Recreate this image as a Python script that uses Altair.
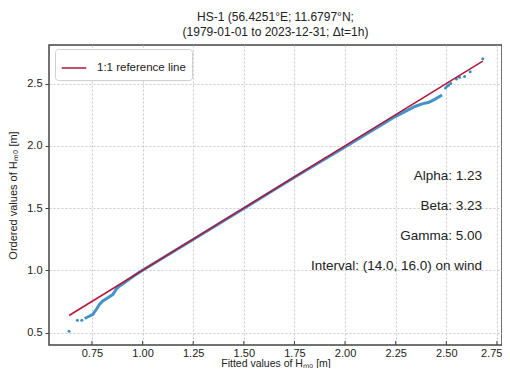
import altair as alt
import pandas as pd

# dense part of the QQ curve (fitted, ordered)
dense_x = [0.714, 0.739, 0.755, 0.772, 0.788, 0.804, 0.829, 0.854, 0.870, 0.887,
           0.920, 0.960, 1.000, 1.250, 1.500, 1.750, 2.000, 2.250, 2.348, 2.381,
           2.414, 2.447, 2.479]
dense_y = [0.613, 0.633, 0.647, 0.687, 0.727, 0.754, 0.780, 0.807, 0.848, 0.874,
           0.912, 0.958, 1.000, 1.247, 1.497, 1.748, 1.990, 2.237, 2.318, 2.337,
           2.350, 2.377, 2.409]
# isolated points
sparse_x = [0.637, 0.678, 0.700, 2.496, 2.504, 2.512, 2.522, 2.550, 2.565, 2.590, 2.618, 2.680]
sparse_y = [0.511, 0.598, 0.598, 2.465, 2.478, 2.488, 2.500, 2.537, 2.550, 2.556, 2.596, 2.700]
# 1:1 reference line
ref_x = [0.637, 2.680]
ref_y = [0.637, 2.680]

x_ticks = [0.75, 1.0, 1.25, 1.5, 1.75, 2.0, 2.25, 2.5, 2.75]
y_ticks = [0.5, 1.0, 1.5, 2.0, 2.5]
annotations = ["Alpha: 1.23", "Beta: 3.23", "Gamma: 5.00", "Interval: (14.0, 16.0) on wind"]
title_lines = ["HS-1 (56.4251°E; 11.6797°N;", "(1979-01-01 to 2023-12-31; Δt=1h)"]

BLUE = "#3a8dc5"
RED = "#b0183c"
FONT = "Liberation Sans"
W, H = 453, 300

xs = alt.Scale(domain=[0.538, 2.775], nice=False, zero=False)
ys = alt.Scale(domain=[0.40, 2.81], nice=False, zero=False)

xaxis = alt.Axis(values=x_ticks, format=".2f", grid=True, gridDash=[2, 2], gridColor="#c8c8c8",
                 tickSize=0, labelPadding=2, domain=False, title="Fitted values of Hₘ₀ [m]",
                 titleFontWeight="normal", titleFontSize=10.5, titleY=21.5, titleBaseline="alphabetic",
                 labelFontSize=11, labelFlush=10, labelFlushOffset=5,
                 labelColor="#222", titleColor="#222", labelFont=FONT, titleFont=FONT)
yaxis = alt.Axis(values=y_ticks, format=".1f", grid=True, gridDash=[2, 2], gridColor="#c8c8c8",
                 tickSize=4, tickColor="#444", labelPadding=3, domain=False,
                 title="Ordered values of Hₘ₀ [m]", titleFontWeight="normal", titleFontSize=11,
                 titlePadding=8, labelFontSize=11, labelColor="#222", titleColor="#222",
                 labelFont=FONT, titleFont=FONT)

dense = pd.DataFrame({"x": dense_x, "y": dense_y})
sparse = pd.DataFrame({"x": sparse_x, "y": sparse_y})
ref = pd.DataFrame({"x": ref_x, "y": ref_y, "series": ["1:1 reference line"] * len(ref_x)})
xt = pd.DataFrame({"t": x_ticks})

base_line = alt.Chart(dense).mark_line(color=BLUE, strokeWidth=3, opacity=0.95).encode(
    x=alt.X("x:Q", scale=xs, axis=xaxis),
    y=alt.Y("y:Q", scale=ys, axis=yaxis),
)
pts = alt.Chart(sparse).mark_circle(color=BLUE, size=9, opacity=1).encode(
    x=alt.X("x:Q", scale=xs), y=alt.Y("y:Q", scale=ys)
)
refline = alt.Chart(ref).mark_line(strokeWidth=1.5).encode(
    x=alt.X("x:Q", scale=xs), y=alt.Y("y:Q", scale=ys),
    color=alt.Color("series:N", scale=alt.Scale(domain=["1:1 reference line"], range=[RED]),
                    legend=alt.Legend(title=None, orient="none", legendX=6, legendY=4,
                                      symbolType="stroke", labelOffset=10,
                                      symbolSize=600, symbolStrokeWidth=1.5, labelFontSize=11.5,
                                      labelFont=FONT, labelColor="#222", fillColor="white",
                                      strokeColor="#d0d0d0", padding=6, cornerRadius=3)),
)
xticks = alt.Chart(xt).mark_rule(color="#444", strokeWidth=1).encode(
    x=alt.X("t:Q", scale=xs), y=alt.value(H - 4), y2=alt.value(H)
)

layers = [base_line, pts, refline, xticks]
for i, t in enumerate(annotations):
    layers.append(
        alt.Chart(pd.DataFrame({"label": [t]})).mark_text(
            align="right", baseline="middle", fontSize=13.5, font=FONT, color="#222"
        ).encode(text="label:N", x=alt.value(433), y=alt.value(131 + 30 * i))
    )

chart = alt.layer(*layers).properties(
    width=W, height=H,
    title=alt.TitleParams(text=title_lines, fontSize=12, font=FONT, fontWeight="normal",
                          anchor="middle", offset=6, lineHeight=15, color="#222"),
    padding={"left": 41, "top": 37, "right": 0, "bottom": 23},
    autosize="none",
).configure_view(stroke="#444", strokeWidth=1.5)

chart.save("out.html", embed_options={"renderer": "svg", "actions": False})
